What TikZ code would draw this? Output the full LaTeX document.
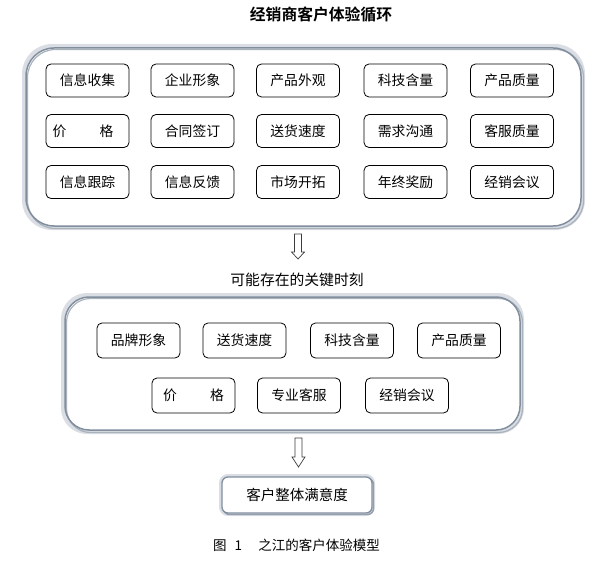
\documentclass[tikz,border=0pt]{standalone}
\usepackage{fontspec}
\newfontfamily\cjk{Noto Sans CJK SC}
\newfontfamily\cjkb{Noto Sans CJK SC Bold}
\definecolor{glowc}{RGB}{218,222,228}
\definecolor{shadc}{RGB}{170,178,188}
\definecolor{shadb}{RGB}{150,160,172}
\definecolor{framec}{RGB}{128,142,158}
\definecolor{arrc}{RGB}{60,60,60}
\begin{document}
\begin{tikzpicture}[x=1pt,y=-1pt,
  item/.style={draw=black, line width=0.8pt, rounded corners=5pt, fill=white,
    minimum width=83pt, minimum height=33pt, inner sep=0pt,
    font=\cjk\fontsize{13.8}{15}\selectfont},
  itemb/.style={item, minimum height=35pt},
  itemtext/.style={font=\cjk\fontsize{13.8}{15}\selectfont, inner sep=0pt},
  glow/.style={draw=glowc, line width=4pt},
  frame/.style={draw=framec, line width=1.5pt},
  blockarrow/.style={draw=arrc, line width=0.7pt, fill=white, line join=miter}
]
\useasboundingbox (0,0) rectangle (597,567);
% title
\node[font=\cjkb\fontsize{15.8}{17}\selectfont] (title) at (321,15) {经销商客户体验循环};

% big box 1
\draw[glow, rounded corners=28pt] (24,46) rectangle (583,228);
\draw[draw=shadc, line width=1.2pt, rounded corners=28pt] (27.5,49.5) rectangle (583.5,228.5);
\draw[frame, rounded corners=28pt] (26,48) rectangle (581,226);

% grid 1
\node[item] (a11) at (87.5,80.5) {信息收集};
\node[item] (a12) at (192.5,80.5) {企业形象};
\node[item] (a13) at (298,80.5) {产品外观};
\node[item] (a14) at (405.5,80.5) {科技含量};
\node[item] (a15) at (512,80.5) {产品质量};
\node[item] (a21) at (87.5,131) {};
\node[itemtext] (a21t) at (83,131) {价\hspace{2.4em}格};
\node[item] (a22) at (192.5,131) {合同签订};
\node[item] (a23) at (298,131) {送货速度};
\node[item] (a24) at (405.5,131) {需求沟通};
\node[item] (a25) at (512,131) {客服质量};
\node[item] (a31) at (87.5,182) {信息跟踪};
\node[item] (a32) at (192.5,182) {信息反馈};
\node[item] (a33) at (298,182) {市场开拓};
\node[item] (a34) at (405.5,182) {年终奖励};
\node[item] (a35) at (512,182) {经销会议};

% arrow 1
\draw[blockarrow] (294.5,234) -- (301.5,234) -- (301.5,252) -- (304.5,252) -- (298,259) -- (291.5,252) -- (294.5,252) -- cycle;

\node[font=\cjk\fontsize{14.8}{16}\selectfont] (mid) at (297,280) {可能存在的关键时刻};

% big box 2
\draw[glow, rounded corners=24pt] (63,295) rectangle (522,432);
\draw[draw=shadc, line width=1.2pt, rounded corners=24pt] (66.5,298.5) rectangle (522.5,432.5);
\draw[frame, rounded corners=24pt] (65,297) rectangle (520,430);

% grid 2
\node[itemb] (c11) at (138.5,340.5) {品牌形象};
\node[itemb] (c12) at (244.5,340.5) {送货速度};
\node[itemb] (c13) at (352,340.5) {科技含量};
\node[itemb] (c14) at (459,340.5) {产品质量};
\node[itemb] (c21) at (193.5,395.5) {};
\node[itemtext] (c21t) at (193.5,395.5) {价\hspace{2.4em}格};
\node[itemb] (c22) at (299,395.5) {专业客服};
\node[itemb] (c23) at (407,395.5) {经销会议};

% arrow 2
\draw[blockarrow] (295,438) -- (302,438) -- (302,457) -- (305,457) -- (298.5,467) -- (292,457) -- (295,457) -- cycle;

% bottom box
\draw[glow, rounded corners=7pt] (221,476) rectangle (373,514);
\draw[draw=shadb, line width=1.4pt, rounded corners=6pt] (223.5,478.5) rectangle (373.5,514.5);
\draw[frame, line width=1.3pt, rounded corners=6pt, fill=white] (222,477) rectangle (372,513);
\node[font=\cjk\fontsize{14.5}{16}\selectfont] (sat) at (297,495) {客户整体满意度};

% caption
\node[font=\cjk\fontsize{13.5}{15}\selectfont] (cap) at (296.5,545) {图\hspace{0.6em}1\hspace{1.2em}之江的客户体验模型};
\end{tikzpicture}
\end{document}
